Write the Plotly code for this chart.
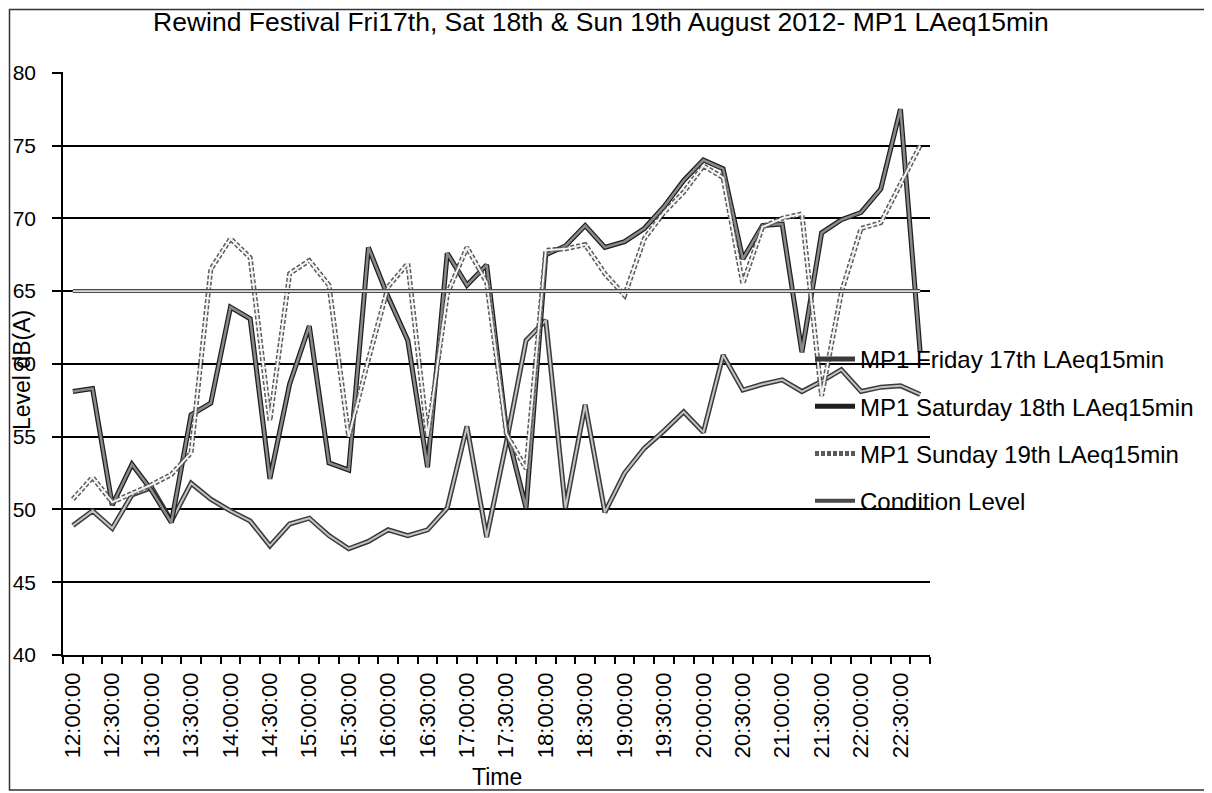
import plotly.graph_objects as go

times = [
    "12:00:00", "12:15:00", "12:30:00", "12:45:00", "13:00:00", "13:15:00", "13:30:00", "13:45:00",
    "14:00:00", "14:15:00", "14:30:00", "14:45:00", "15:00:00", "15:15:00", "15:30:00", "15:45:00",
    "16:00:00", "16:15:00", "16:30:00", "16:45:00", "17:00:00", "17:15:00", "17:30:00", "17:45:00",
    "18:00:00", "18:15:00", "18:30:00", "18:45:00", "19:00:00", "19:15:00", "19:30:00", "19:45:00",
    "20:00:00", "20:15:00", "20:30:00", "20:45:00", "21:00:00", "21:15:00", "21:30:00", "21:45:00",
    "22:00:00", "22:15:00", "22:30:00", "22:45:00",
]

friday = [
    48.9, 49.9, 48.7, 51.0, 51.5, 49.2, 51.8, 50.7, 49.9, 49.2, 47.5, 49.0,
    49.4, 48.2, 47.3, 47.8, 48.6, 48.2, 48.6, 50.1, 55.7, 48.1, 54.6, 61.6,
    63.0, 50.1, 57.2, 49.8, 52.5, 54.2, 55.4, 56.7, 55.3, 60.6, 58.2, 58.6,
    58.9, 58.1, 58.8, 59.6, 58.1, 58.4, 58.5, 57.9,
]
saturday = [
    58.1, 58.3, 50.3, 53.1, 51.3, 49.1, 56.5, 57.3, 63.9, 63.1, 52.1, 58.6,
    62.6, 53.2, 52.7, 68.0, 64.6, 61.6, 52.9, 67.6, 65.4, 66.8, 55.5, 50.1,
    67.5, 68.1, 69.5, 68.0, 68.4, 69.3, 70.8, 72.6, 74.0, 73.4, 67.2, 69.5,
    69.6, 60.8, 69.0, 69.9, 70.4, 72.0, 77.5, 60.8,
]
sunday = [
    50.7, 52.2, 50.5, 51.1, 51.7, 52.4, 53.9, 66.5, 68.6, 67.3, 56.1, 66.2,
    67.1, 65.4, 55.0, 60.3, 65.3, 66.9, 55.0, 64.8, 68.0, 65.6, 55.2, 52.8,
    67.8, 67.9, 68.2, 66.2, 64.7, 68.6, 70.4, 71.8, 73.6, 72.8, 65.5, 69.4,
    70.0, 70.3, 57.8, 64.9, 69.3, 69.7, 72.3, 75.0,
]
condition = [65] * len(times)

series_names = [
    "MP1 Friday 17th LAeq15min",
    "MP1 Saturday 18th LAeq15min",
    "MP1 Sunday 19th LAeq15min",
    "Condition Level",
]
series_values = [friday, saturday, sunday, condition]
outline_colors = ["#3a3a3a", "#1e1e1e", "#5a5a5a", "#4a4a4a"]
inner_colors = ["#c4c4c4", "#8a8a8a", "#f2f2f2", "#dcdcdc"]
outline_dash = ["solid", "solid", "4px,2px", "solid"]
outline_w = [5, 5, 5, 4]
inner_w = [2, 2.5, 2, 1.6]

x_ticklabels = [t if i % 2 == 0 else "" for i, t in enumerate(times)]

FONT = "Liberation Sans"

fig = go.Figure()
for name, vals, oc, ic, dsh, ow, iw in zip(series_names, series_values, outline_colors,
                                              inner_colors, outline_dash, outline_w, inner_w):
    fig.add_trace(go.Scatter(
        x=times, y=vals, mode="lines", name=name, legendgroup=name,
        line=dict(color=oc, width=ow, dash=dsh), showlegend=True,
    ))
    fig.add_trace(go.Scatter(
        x=times, y=vals, mode="lines", name=name, legendgroup=name,
        line=dict(color=ic, width=iw), showlegend=False, hoverinfo="skip",
    ))

# page offset of the plot (browser body margin is 8px)
OFF = 8
PL, PR, PT, PB = 63, 930, 72, 655          # plot area in page pixels
W, H = 1204, 785
L, T = PL - OFF, PT - OFF
pw, ph = PR - PL, PB - PT
R = W - L - pw
B = H - T - ph

def px_x(x):
    return (x - PL) / pw

def px_y(y):
    return (PB - y) / ph

fig.update_layout(
    width=W, height=H,
    margin=dict(l=L, r=R, t=T, b=B, autoexpand=False),
    paper_bgcolor="white", plot_bgcolor="white",
    font=dict(family=FONT, color="black", size=20),
    showlegend=True,
    legend=dict(
        x=px_x(810), xanchor="left", y=px_y(337), yanchor="top",
        bgcolor="rgba(0,0,0,0)", font=dict(family=FONT, size=24, color="black"),
        tracegroupgap=13, itemwidth=40,
    ),
    xaxis=dict(
        type="category", categoryorder="array", categoryarray=times,
        range=[-0.5, len(times) - 0.5],
        tickmode="array", tickvals=times, ticktext=x_ticklabels,
        tickson="boundaries", tickangle=-90,
        ticks="outside", ticklen=7, tickcolor="black", tickwidth=1.5,
        ticklabelstandoff=7,
        showline=True, linecolor="black", linewidth=1.5,
        showgrid=False, tickfont=dict(family=FONT, size=22),
    ),
    yaxis=dict(
        range=[40, 80.05], dtick=5, tick0=40,
        showgrid=True, gridcolor="black", gridwidth=1.5,
        showline=True, linecolor="black", linewidth=1.5,
        ticks="outside", ticklen=9, tickcolor="black", tickwidth=1.5,
        ticklabelstandoff=12,
        tickfont=dict(family=FONT, size=21), zeroline=False,
    ),
    annotations=[
        dict(text="Rewind Festival Fri17th, Sat 18th & Sun 19th August 2012- MP1 LAeq15min",
             xref="paper", yref="paper", x=px_x(601), y=px_y(22),
             xanchor="center", yanchor="middle", showarrow=False,
             font=dict(family=FONT, size=26.5, color="black")),
        dict(text="Level dB(A)", textangle=-90, xref="paper", yref="paper",
             x=px_x(22), y=px_y(370), xanchor="center", yanchor="middle", showarrow=False,
             font=dict(family=FONT, size=23, color="black")),
        dict(text="Time", xref="paper", yref="paper", x=px_x(497), y=px_y(777),
             xanchor="center", yanchor="middle", showarrow=False,
             font=dict(family=FONT, size=23, color="black")),
    ],
    shapes=[
        dict(type="rect", xref="paper", yref="paper",
             x0=px_x(9.5), x1=px_x(1206), y0=px_y(790), y1=px_y(9.5),
             line=dict(color="#333333", width=1.5), fillcolor="rgba(0,0,0,0)", layer="below"),
    ],
)

fig.write_html("out.html")
